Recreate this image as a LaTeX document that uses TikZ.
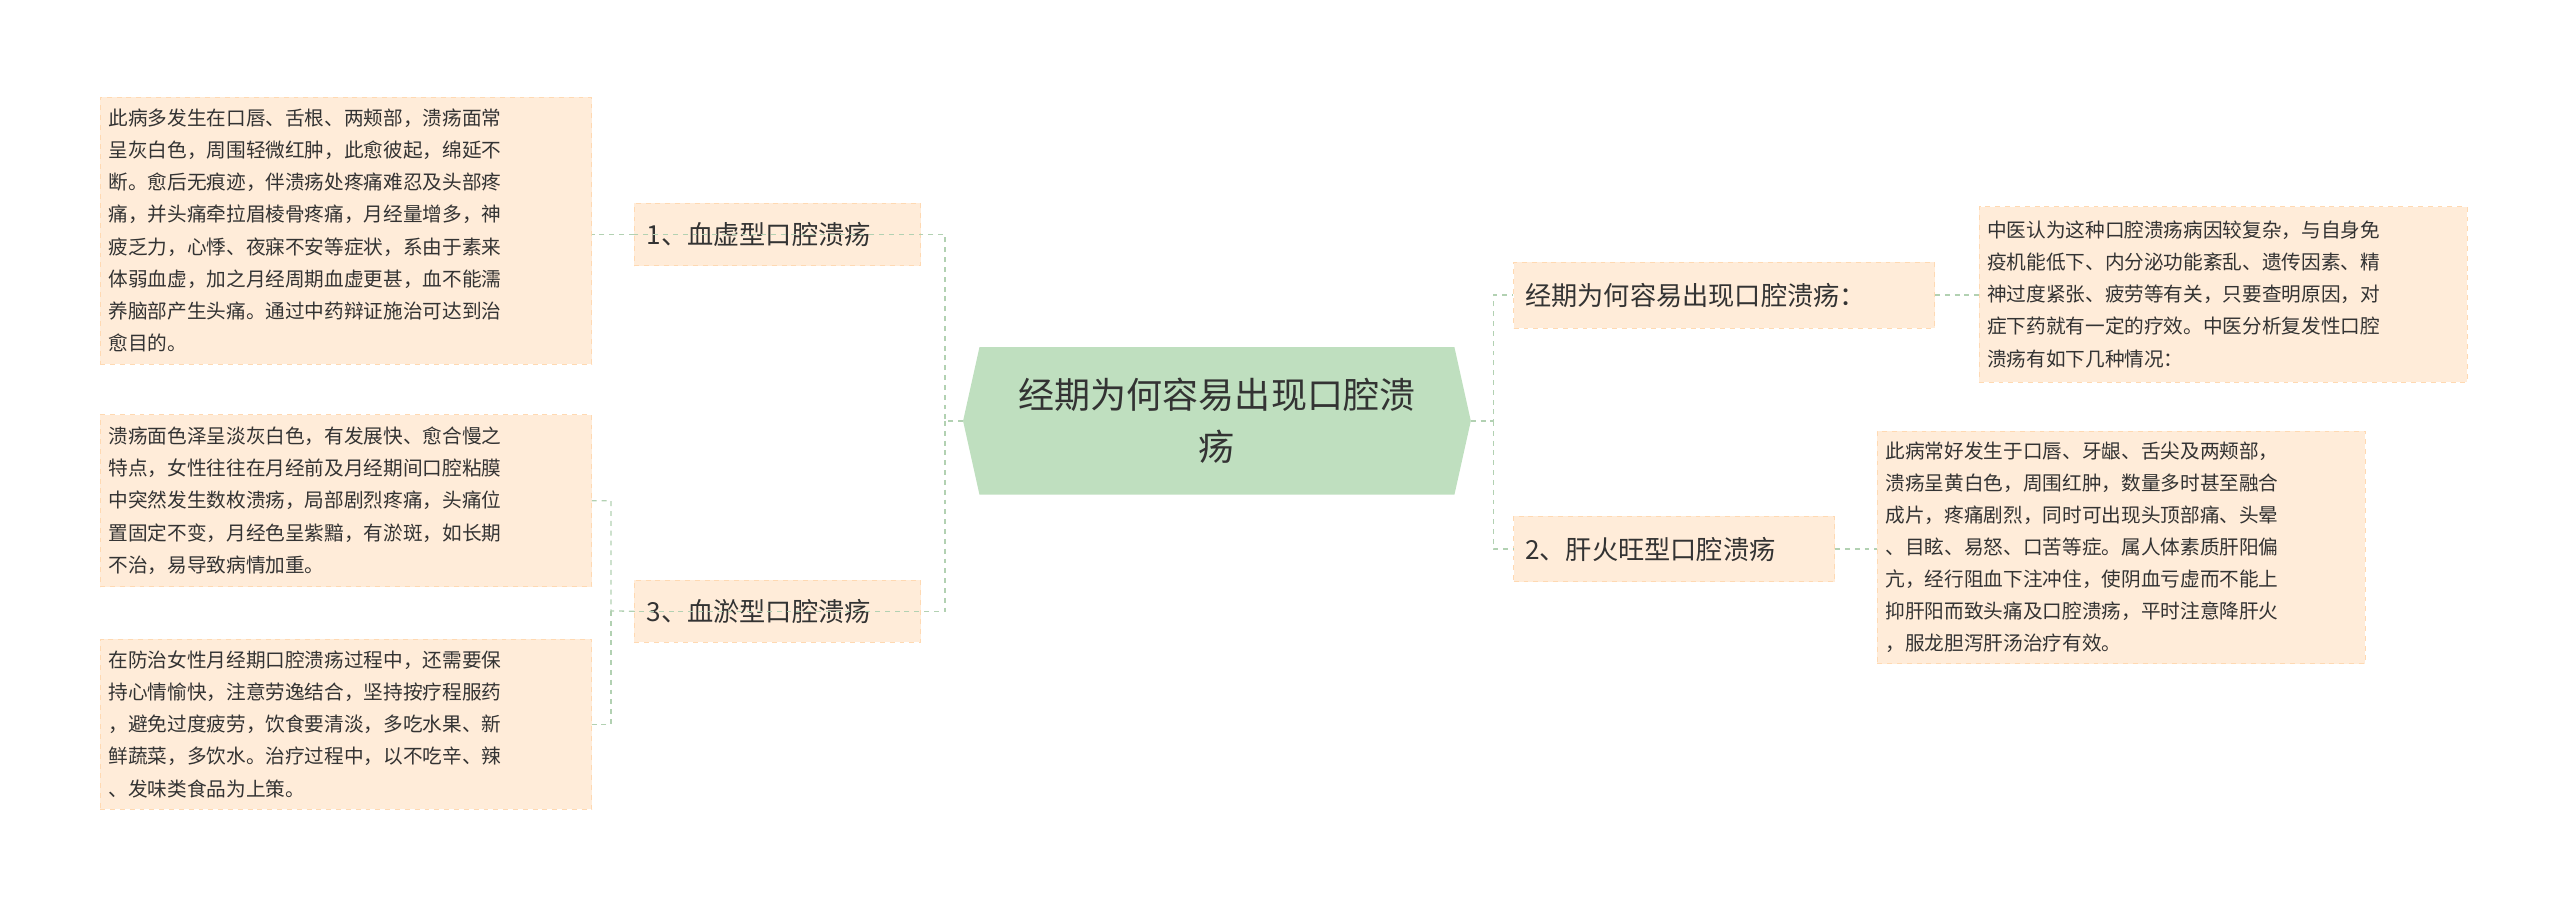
\documentclass[tikz,border=0pt]{standalone}
\usepackage{fontspec}
\setmainfont{Noto Sans CJK SC}
\begin{document}
\begin{tikzpicture}[x=1pt,y=-1pt,
  txt/.style={draw=orange!30!white,dashed,fill=orange!15!white,text=black!80,anchor=north west,inner sep=0pt,align=left,font=\fontsize{12}{19.6}\selectfont},
  br/.style={draw=orange!30!white,dashed,fill=orange!15!white,text=black!80,anchor=north west,inner sep=0pt,font=\fontsize{16}{20}\selectfont},
  con/.style={draw=green!40!black!30!white,dashed,line width=0.8pt}]
\useasboundingbox (0,0) rectangle (1563,554);
\fill[green!50!black!25!white] (598,212) -- (888,212) -- (898,257) -- (888,302) -- (598,302) -- (588,257) -- cycle;
\node[text=black!80,align=center,font=\fontsize{22}{32}\selectfont] (c) at (743,257) {经期为何容易出现口腔溃\\疡};
\coordinate (cl) at (588,257); \coordinate (cr) at (898,257);
\node[br,minimum width=175pt,minimum height=38pt,text width=160pt,inner xsep=7pt] (b1) at (387,124) {1、血虚型口腔溃疡};
\node[br,minimum width=175pt,minimum height=38pt,text width=160pt,inner xsep=7pt] (b3) at (387,354) {3、血淤型口腔溃疡};
\node[br,minimum width=257pt,minimum height=40pt,text width=243pt,inner xsep=7pt] (r1) at (924,160) {经期为何容易出现口腔溃疡：};
\node[br,minimum width=196pt,minimum height=40pt,text width=182pt,inner xsep=7pt] (r2) at (924,315) {2、肝火旺型口腔溃疡};
\node[txt,minimum width=300pt,minimum height=163pt,text width=290pt,inner xsep=5pt] (t1) at (61,59) {此病多发生在口唇、舌根、两颊部，溃疡面常\\呈灰白色，周围轻微红肿，此愈彼起，绵延不\\断。愈后无痕迹，伴溃疡处疼痛难忍及头部疼\\痛，并头痛牵拉眉棱骨疼痛，月经量增多，神\\疲乏力，心悸、夜寐不安等症状，系由于素来\\体弱血虚，加之月经周期血虚更甚，血不能濡\\养脑部产生头痛。通过中药辩证施治可达到治\\愈目的。};
\node[txt,minimum width=300pt,minimum height=105pt,text width=290pt,inner xsep=5pt] (t2) at (61,253) {溃疡面色泽呈淡灰白色，有发展快、愈合慢之\\特点，女性往往在月经前及月经期间口腔粘膜\\中突然发生数枚溃疡，局部剧烈疼痛，头痛位\\置固定不变，月经色呈紫黯，有淤斑，如长期\\不治，易导致病情加重。};
\node[txt,minimum width=300pt,minimum height=104pt,text width=290pt,inner xsep=5pt] (t3) at (61,390) {在防治女性月经期口腔溃疡过程中，还需要保\\持心情愉快，注意劳逸结合，坚持按疗程服药\\，避免过度疲劳，饮食要清淡，多吃水果、新\\鲜蔬菜，多饮水。治疗过程中，以不吃辛、辣\\、发味类食品为上策。};
\node[txt,minimum width=298pt,minimum height=107pt,text width=288pt,inner xsep=5pt] (t4) at (1208,126) {中医认为这种口腔溃疡病因较复杂，与自身免\\疫机能低下、内分泌功能紊乱、遗传因素、精\\神过度紧张、疲劳等有关，只要查明原因，对\\症下药就有一定的疗效。中医分析复发性口腔\\溃疡有如下几种情况：};
\node[txt,minimum width=298pt,minimum height=142pt,text width=288pt,inner xsep=5pt] (t5) at (1146,263) {此病常好发生于口唇、牙龈、舌尖及两颊部，\\溃疡呈黄白色，周围红肿，数量多时甚至融合\\成片，疼痛剧烈，同时可出现头顶部痛、头晕\\、目眩、易怒、口苦等症。属人体素质肝阳偏\\亢，经行阻血下注冲住，使阴血亏虚而不能上\\抑肝阳而致头痛及口腔溃疡，平时注意降肝火\\，服龙胆泻肝汤治疗有效。};
\draw[con] (cl) -- (577,257) |- (b1.west);
\draw[con] (577,257) |- (b3.west);
\draw[con] (cr) -- (912,257) |- (r1.west);
\draw[con] (912,257) |- (r2.west);
\draw[con] (b1.west) -- (t1.east |- b1.west);
\draw[con] (b3.west) -- (373,373) |- (t2.east);
\draw[con] (373,373) |- (t3.east);
\draw[con] (r1.east) -- (t4.west |- r1.east);
\draw[con] (r2.east) -- (t5.west |- r2.east);
\end{tikzpicture}
\end{document}
